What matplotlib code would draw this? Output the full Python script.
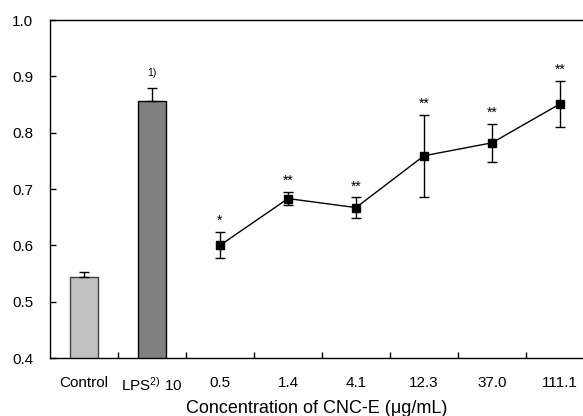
import matplotlib
matplotlib.use("Agg")
import matplotlib.pyplot as plt
import numpy as np

plt.rcParams['font.family'] = ['Liberation Sans', 'DejaVu Sans']
plt.rcParams['mathtext.fontset'] = 'custom'
plt.rcParams['mathtext.rm'] = 'Liberation Sans'
plt.rcParams['mathtext.it'] = 'Liberation Sans:italic'

categories = ['Control', r'LPS$^{2)}$ 10', '0.5', '1.4', '4.1', '12.3', '37.0', '111.1']
bar_values = [0.544, 0.857]
bar_errors = [0.009, 0.022]
bar_colors = ['#c0c0c0', '#808080']
bar_edges = ['#404040', '#000000']
bar_notes = ['', '1)']
line_values = [0.600, 0.683, 0.667, 0.759, 0.782, 0.851]
line_errors = [0.023, 0.012, 0.018, 0.073, 0.034, 0.041]
line_notes = ['*', '**', '**', '**', '**', '**']

fig = plt.figure(figsize=(5.83, 4.16), dpi=100)
ax = fig.add_axes([50/583, 1-358/416, 1-50/583, (358-20)/416])

xb = np.arange(len(bar_values))
ax.bar(xb, bar_values, width=0.4, color=bar_colors, edgecolor=bar_edges, linewidth=1.0, zorder=2)
ax.errorbar(xb, bar_values, yerr=[np.zeros(len(bar_errors)), bar_errors], fmt='none',
            ecolor='black', elinewidth=1.0, capsize=3.5, capthick=1.0, zorder=3)
for x, v, e, n in zip(xb, bar_values, bar_errors, bar_notes):
    if n:
        ax.annotate(n, (x, v + e), xytext=(0, 11), textcoords='offset points',
                    ha='center', va='center', fontsize=7.5)

xl = np.arange(len(bar_values), len(categories))
ax.errorbar(xl, line_values, yerr=line_errors, fmt='s-', color='black', ms=6,
            lw=1.0, elinewidth=1.0, capsize=3.5, capthick=1.0, zorder=3)
for x, v, e, n in zip(xl, line_values, line_errors, line_notes):
    ax.annotate(n, (x, v + e), xytext=(0, 8), textcoords='offset points',
                ha='center', va='center', fontsize=10)

ax.set_ylim(0.4, 1.0)
ax.set_xlim(-0.5, (583-50)/68 - 0.5)
ax.set_yticks(np.arange(0.4, 1.01, 0.1))
ax.set_yticklabels([f'{v:.1f}' for v in np.arange(0.4, 1.01, 0.1)])
ax.set_xticks(np.arange(len(categories)))
ax.set_xticklabels(categories)
ax.set_xticks(np.arange(0.5, len(categories) - 1, 1.0), minor=True)
ax.tick_params(axis='x', which='major', length=0, pad=13, labelsize=11)
ax.tick_params(axis='x', which='minor', direction='in', length=4, width=1.0)
ax.tick_params(axis='y', direction='in', length=4, width=1.0, pad=12, labelsize=11)
ax.spines['right'].set_visible(False)
for s in ['left', 'top', 'bottom']:
    ax.spines[s].set_linewidth(1.0)
ax.set_xlabel('Concentration of CNC-E (μg/mL)', fontsize=13, labelpad=4)

fig.savefig('out.png', dpi=100)
